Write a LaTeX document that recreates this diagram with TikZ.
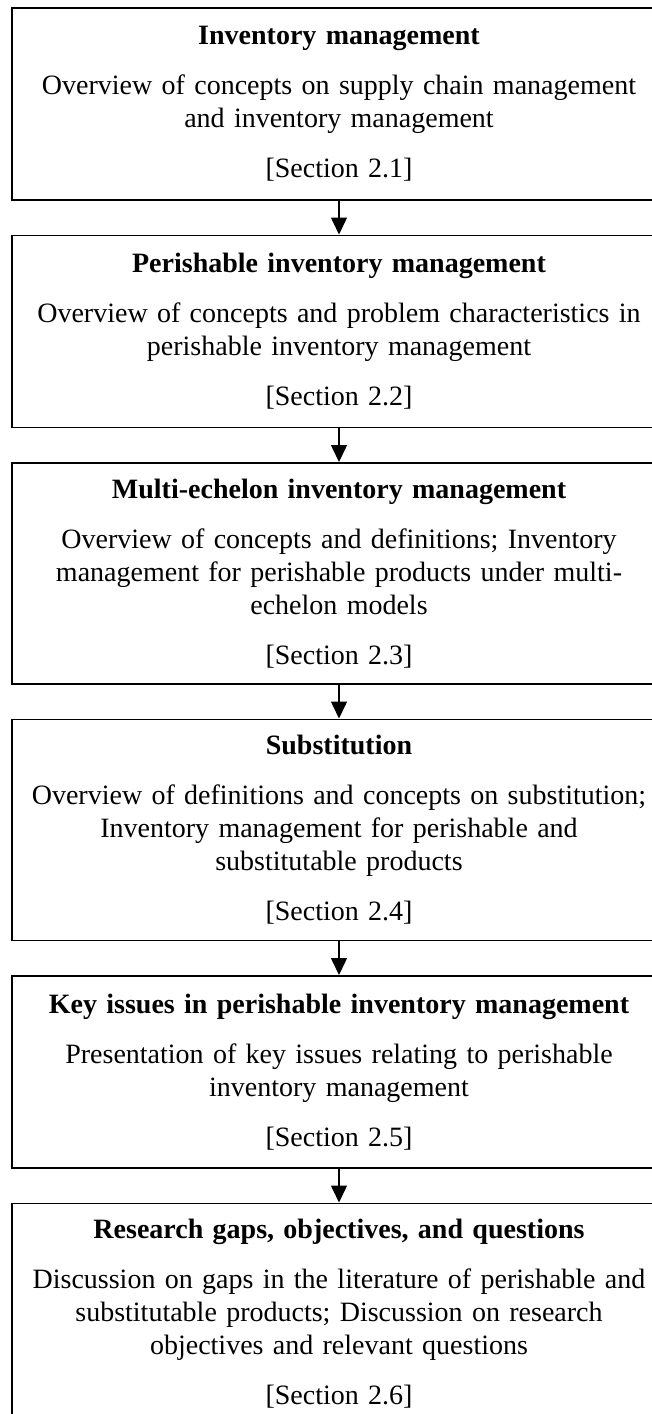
\documentclass[tikz,border=0pt]{standalone}
\usepackage{fontspec}
\setmainfont{Liberation Serif}
\usetikzlibrary{positioning,arrows.meta}

\begin{document}
\begin{tikzpicture}[
secnode/.style={rectangle, draw=black, line width=1.5pt, text width=700pt, inner xsep=-23pt, inner ysep=0pt, align=center, font=\fontsize{28pt}{33pt}\selectfont},
shortnode/.style={secnode, minimum height=192pt},
tallnode/.style={secnode, minimum height=221pt},
flowarrow/.style={-{Triangle[length=17pt,width=16pt]}, line width=1.5pt},
]
\useasboundingbox (0,0) rectangle (652pt,-1414pt);

%Nodes
\node[shortnode, anchor=north] (invmgmt) at (339pt,-7pt)
  {\textbf{Inventory management}\\[17pt]
   Overview of concepts on supply chain management\\
   and inventory management\\[17pt]
   {[Section 2.1]}};
\node[shortnode] (perishmgmt) [below=34pt of invmgmt]
  {\textbf{Perishable inventory management}\\[17pt]
   Overview of concepts and problem characteristics in\\
   perishable inventory management\\[17pt]
   {[Section 2.2]}};
\node[tallnode] (multiech) [below=34pt of perishmgmt]
  {\textbf{Multi-echelon inventory management}\\[17pt]
   Overview of concepts and definitions; Inventory\\
   management for perishable products under multi-\\
   echelon models\\[17pt]
   {[Section 2.3]}};
\node[tallnode] (subst) [below=34pt of multiech]
  {\textbf{Substitution}\\[17pt]
   Overview of definitions and concepts on substitution;\\
   Inventory management for perishable and\\
   substitutable products\\[17pt]
   {[Section 2.4]}};
\node[shortnode] (keyissues) [below=34pt of subst]
  {\textbf{Key issues in perishable inventory management}\\[17pt]
   Presentation of key issues relating to perishable\\
   inventory management\\[17pt]
   {[Section 2.5]}};
\node[tallnode] (gaps) [below=34pt of keyissues]
  {\textbf{Research gaps, objectives, and questions}\\[17pt]
   Discussion on gaps in the literature of perishable and\\
   substitutable products; Discussion on research\\
   objectives and relevant questions\\[17pt]
   {[Section 2.6]}};

%Lines
\draw[flowarrow] (invmgmt.south) -- (perishmgmt.north);
\draw[flowarrow] (perishmgmt.south) -- (multiech.north);
\draw[flowarrow] (multiech.south) -- (subst.north);
\draw[flowarrow] (subst.south) -- (keyissues.north);
\draw[flowarrow] (keyissues.south) -- (gaps.north);

\end{tikzpicture}
\end{document}
